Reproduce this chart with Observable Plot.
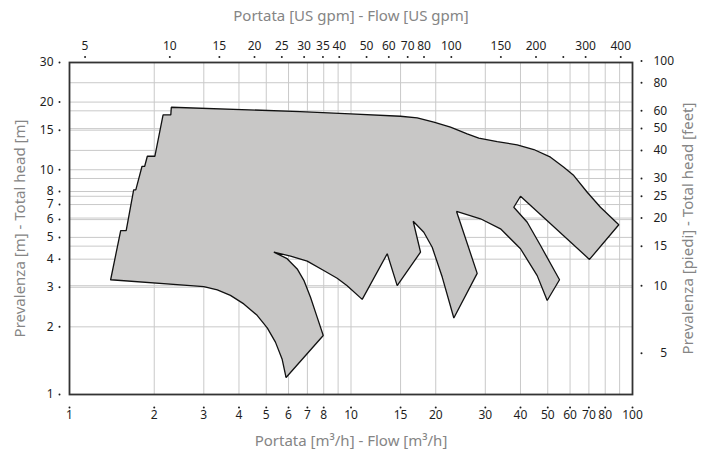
<!DOCTYPE html>
<html><head><meta charset="utf-8">
<script src="https://cdn.jsdelivr.net/npm/d3@7"></script>
<script src="https://cdn.jsdelivr.net/npm/@observablehq/plot@0.6"></script>
<style>body{margin:0;background:#fff;}</style>
</head><body><div id="chart"></div>
<script>
// Pump coverage outline (flow m3/h, head m), clockwise from bottom-left
const flowM3h = [1.40, 1.52, 1.59, 1.69, 1.72, 1.81, 1.85, 1.89, 2.01, 2.15, 2.29, 2.30,
  6.6, 9.96, 14.99, 17.19, 19.69, 22.57, 25.87, 28.44, 33.07, 38.94, 44.62, 51.14, 57.02, 61.88, 69.05, 76.95, 89.41,
  70.34, 40.01, 37.87, 42.27, 47.12, 55.05,
  49.77, 45.86, 40.01, 33.97, 28.84, 23.71,
  28.07, 23.19, 21.09, 19.43, 18.14, 16.63,
  17.66, 14.59, 13.45, 10.96, 9.69, 8.93, 8.00, 6.99, 6.10, 5.32,
  5.93, 6.44, 6.80, 7.18, 7.58, 7.97,
  5.88, 5.69, 5.39, 5.04, 4.64, 4.16, 3.73, 3.35, 3.00, 2.69];
const headM = [3.24, 5.36, 5.36, 8.14, 8.14, 10.36, 10.36, 11.48, 11.48, 17.55, 17.55, 18.97,
  18.15, 17.73, 17.30, 17.02, 16.27, 15.46, 14.44, 13.81, 13.35, 12.90, 12.30, 11.37, 10.26, 9.42, 7.94, 6.81, 5.69,
  3.99, 7.62, 6.81, 5.84, 4.60, 3.24,
  2.62, 3.38, 4.45, 5.46, 6.05, 6.52,
  3.46, 2.19, 3.33, 4.52, 5.27, 5.90,
  4.30, 3.05, 4.23, 2.65, 3.05, 3.29, 3.56, 3.92, 4.13, 4.30,
  4.02, 3.62, 3.22, 2.71, 2.21, 1.83,
  1.19, 1.44, 1.71, 1.98, 2.25, 2.53, 2.76, 2.92, 3.02, 3.05];

const xTicks = [1, 2, 3, 4, 5, 6, 7, 8, 10, 15, 20, 30, 40, 50, 60, 70, 80, 100];
const xGrid = [2, 3, 4, 5, 6, 7, 8, 9, 10, 15, 20, 30, 40, 50, 60, 70, 80, 90];
const yTicks = [1, 2, 3, 4, 5, 6, 7, 8, 10, 15, 20, 30];
const yGrid = [2, 3, 4, 5, 6, 7, 8, 10, 15, 20];
const feetTicks = [5, 10, 15, 20, 25, 30, 40, 50, 60, 80, 100];
const feetGrid = [10, 15, 20, 25, 30, 40, 50, 60, 80];
const gpmTicks = [5, 10, 15, 20, 25, 30, 35, 40, 50, 60, 70, 80, 100, 150, 200, 250, 300, 400];
const gpmUnlabeled = [250];

const titleTop = "Portata [US gpm] - Flow [US gpm]";
const titleBottom = "Portata [m³/h] - Flow [m³/h]";
const titleLeft = "Prevalenza [m] - Total head [m]";
const titleRight = "Prevalenza [piedi] - Total head [feet]";

const M_PER_FT = 0.3048;
const GPM_PER_M3H = 4.40287;

const outline = flowM3h.map((x, i) => ({x, y: headM[i]}));
outline.push(outline[0]);
const gpmRows = gpmTicks.map(g => ({pos: g / GPM_PER_M3H, label: gpmUnlabeled.includes(g) ? "" : String(g)}));
const feetRows = feetTicks.map(f => ({pos: f * M_PER_FT, label: f < 10 ? "\u2007" + f : String(f)}));
const tickColor = "#1e1e1e";
const titleColor = "#858585";
const fs = 12;

const chart = Plot.plot({
  width: 707, height: 457,
  marginLeft: 69, marginRight: 75, marginTop: 62, marginBottom: 63,
  style: {fontFamily: "'Noto Sans', sans-serif", fontSize: "12px", color: tickColor, background: "#fff", overflow: "visible"},
  x: {type: "log", domain: [1, 100], axis: null},
  y: {type: "log", domain: [1, 30], axis: null},
  marks: [
    Plot.ruleX(xGrid, {x: d => d, stroke: "#c9c9c9", strokeWidth: 1}),
    Plot.ruleY([...yGrid, ...feetGrid.map(f => f * M_PER_FT)], {y: d => d, stroke: "#c9c9c9", strokeWidth: 1}),
    Plot.line(outline, {x: "x", y: "y", fill: "#c8c7c6", stroke: "#111", strokeWidth: 1.3, strokeLinejoin: "miter"}),
    Plot.frame({stroke: "#333", strokeWidth: 1.8}),
    // bottom axis (m3/h)
    Plot.text(xTicks, {x: d => d, text: d => String(d), frameAnchor: "bottom", dy: 21, lineAnchor: "middle", textAnchor: "middle", fontSize: fs, fill: tickColor}),
    Plot.dot(xTicks, {x: d => d, frameAnchor: "bottom", dy: 13, r: 1, fill: tickColor, stroke: null}),
    // top axis (US gpm)
    Plot.text(gpmRows, {x: "pos", text: "label", frameAnchor: "top", dy: -16, lineAnchor: "middle", textAnchor: "middle", fontSize: fs, fill: tickColor}),
    Plot.dot(gpmRows, {x: "pos", frameAnchor: "top", dy: -5.5, r: 1, fill: tickColor, stroke: null}),
    // left axis (m)
    Plot.text(yTicks, {y: d => d, text: d => String(d), frameAnchor: "left", dx: -16, lineAnchor: "middle", textAnchor: "end", fontSize: fs, fill: tickColor}),
    Plot.dot(yTicks, {y: d => d, frameAnchor: "left", dx: -10, r: 1, fill: tickColor, stroke: null}),
    // right axis (feet)
    Plot.text(feetRows, {y: "pos", text: "label", frameAnchor: "right", dx: 21, lineAnchor: "middle", textAnchor: "start", fontSize: fs, fill: tickColor}),
    Plot.dot(feetRows, {y: "pos", frameAnchor: "right", dx: 9, r: 1, fill: tickColor, stroke: null}),
    // titles
    Plot.text([titleTop], {text: d => d, frameAnchor: "top", dy: -46, lineAnchor: "middle", textAnchor: "middle", fontSize: 15, fill: titleColor}),
    Plot.text([titleBottom], {text: d => d, frameAnchor: "bottom", dy: 47, lineAnchor: "middle", textAnchor: "middle", fontSize: 15, fill: titleColor}),
    Plot.text([titleLeft], {text: d => d, frameAnchor: "left", dx: -49, rotate: -90, lineAnchor: "middle", textAnchor: "middle", fontSize: 15, fill: titleColor}),
    Plot.text([titleRight], {text: d => d, frameAnchor: "right", dx: 56, rotate: -90, lineAnchor: "middle", textAnchor: "middle", fontSize: 15, fill: titleColor})
  ]
});
document.getElementById("chart").appendChild(chart);
</script>
</body></html>
